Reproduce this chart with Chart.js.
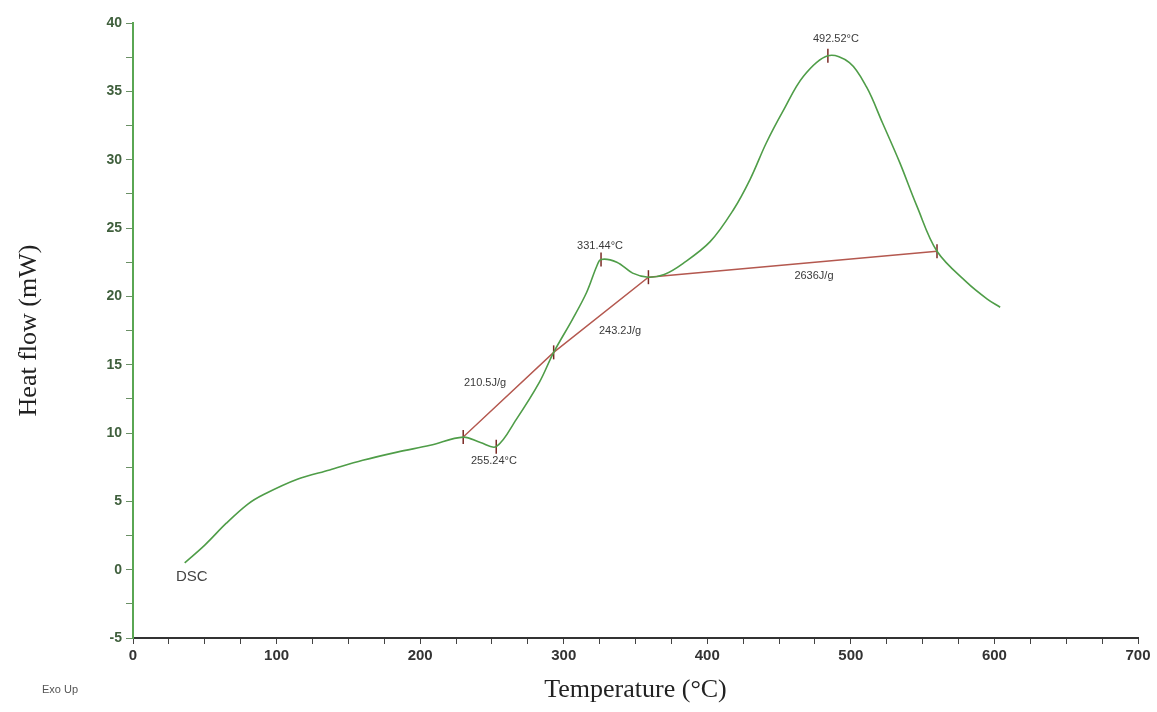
<!DOCTYPE html>
<html>
<head>
<meta charset="utf-8">
<script src="https://cdn.jsdelivr.net/npm/chart.js@4"></script>
<style>
  html, body { margin: 0; padding: 0; background: #fff; }
  #wrap { width: 1157px; height: 712px; }
</style>
</head>
<body>
<div id="wrap"><canvas id="dscChart" width="1157" height="712"></canvas></div>
<script>
// DSC curve (temperature in °C, heat flow in mW)
const temps = [36, 50, 65, 80, 91, 114, 137, 160, 184, 207, 230, 242, 253, 267, 283, 293, 306, 316, 323, 326,
  337, 348, 359, 370, 383, 402, 418, 430, 441, 453, 467, 484, 499, 511, 522, 534, 546, 560, 581, 595, 604];
const heatFlow = [0.5, 1.8, 3.4, 4.8, 5.5, 6.6, 7.3, 8.0, 8.6, 9.1, 9.7, 9.3, 9.0, 11.0, 13.7, 15.9, 18.3, 20.3, 22.2, 22.7,
  22.5, 21.7, 21.4, 21.6, 22.4, 24.0, 26.3, 28.6, 31.2, 33.6, 36.1, 37.6, 37.1, 35.3, 32.7, 29.8, 26.6, 23.3, 21.0, 19.8, 19.2];

// integration baselines (red)
const baseTemps = [230, 293, 359, 560];
const baseFlow = [9.7, 15.9, 21.4, 23.3];

// marker ticks on the curve
const markTemps = [230, 253, 293, 326, 359, 484, 560];
const markFlow = [9.7, 9.0, 15.9, 22.7, 21.4, 37.6, 23.3];

// annotation texts and where they sit (data coords)
const noteTexts = ["492.52°C", "331.44°C", "255.24°C", "210.5J/g", "243.2J/g", "2636J/g"];
const noteTemps = [489.6, 325.3, 251.4, 245.2, 339.2, 474.3];
const noteFlow = [38.8, 23.7, 7.95, 13.65, 17.5, 21.5];

const xTicks = [0, 100, 200, 300, 400, 500, 600, 700];
const yTicks = [-5, 0, 5, 10, 15, 20, 25, 30, 35, 40];

const toPts = (xs, ys) => xs.map((x, i) => ({x: x, y: ys[i]}));

// text labels drawn on top of the chart
const notesPlugin = {
  id: 'notes',
  afterDatasetsDraw(chart) {
    const c = chart.ctx;
    const xs = chart.scales.x, ys = chart.scales.y;
    c.save();
    c.fillStyle = '#3a3a3a';
    c.textAlign = 'center';
    c.textBaseline = 'middle';
    c.font = '11px "Liberation Sans", Arial, sans-serif';
    noteTexts.forEach((t, i) => {
      c.fillText(t, xs.getPixelForValue(noteTemps[i]), ys.getPixelForValue(noteFlow[i]));
    });
    // curve name next to start of trace
    c.font = '15px "Liberation Sans", Arial, sans-serif';
    c.fillStyle = '#444';
    c.fillText('DSC', xs.getPixelForValue(41), ys.getPixelForValue(-0.5));
    // "Exo Up" under the axis corner
    c.font = '11px "Liberation Sans", Arial, sans-serif';
    c.fillStyle = '#555';
    c.fillText('Exo Up', 60, 690);
    c.restore();
  }
};

const ctx = document.getElementById('dscChart').getContext('2d');
const dscChart = new Chart(ctx, {
  type: 'scatter',
  data: {
    datasets: [{
      label: 'DSC',
      data: toPts(temps, heatFlow),
      showLine: true,
      borderColor: '#4f9d48',
      borderWidth: 1.6,
      pointRadius: 0,
      tension: 0.35
    }, {
      label: 'Baseline',
      data: toPts(baseTemps, baseFlow),
      showLine: true,
      borderColor: '#b4584f',
      borderWidth: 1.4,
      pointRadius: 0,
      tension: 0
    }, {
      label: 'Marks',
      data: toPts(markTemps, markFlow),
      showLine: false,
      pointStyle: 'line',
      rotation: 90,
      pointRadius: 7,
      borderColor: '#7a2a24',
      borderWidth: 1.5
    }]
  },
  options: {
    responsive: false,
    animation: false,
    layout: { padding: { top: 23, right: 19, bottom: 0, left: 0 } },
    plugins: {
      legend: { display: false },
      tooltip: { enabled: false }
    },
    scales: {
      x: {
        type: 'linear',
        min: 0,
        max: 700,
        afterFit(scale) { scale.height = 74; },
        afterBuildTicks(scale) {
          const t = [];
          for (let v = 0; v <= 700; v += 25) t.push({value: v});
          scale.ticks = t;
        },
        border: { color: '#333', width: 2 },
        grid: { drawOnChartArea: false, color: '#444', tickLength: 6 },
        ticks: {
          autoSkip: false,
          maxRotation: 0,
          padding: 3,
          color: '#333',
          font: { family: '"Liberation Sans", Arial, sans-serif', size: 15, weight: 'bold' },
          callback: (v) => xTicks.includes(v) ? String(v) : ''
        },
        title: {
          display: true,
          text: 'Temperature (°C)',
          color: '#222',
          font: { family: '"Liberation Serif", "Times New Roman", serif', size: 26 },
          padding: { top: 0, bottom: 6 }
        }
      },
      y: {
        type: 'linear',
        min: -5,
        max: 40,
        afterFit(scale) { scale.width = 133; },
        afterBuildTicks(scale) {
          const t = [];
          for (let v = -5; v <= 40; v += 2.5) t.push({value: v});
          scale.ticks = t;
        },
        border: { color: '#5aa653', width: 2 },
        grid: { drawOnChartArea: false, color: '#6b8f66', tickLength: 7 },
        ticks: {
          autoSkip: false,
          padding: 4,
          color: '#3f5f3c',
          font: { family: '"Liberation Sans", Arial, sans-serif', size: 14, weight: 'bold' },
          callback: (v) => yTicks.includes(v) ? String(v) : ''
        },
        title: {
          display: true,
          text: 'Heat flow (mW)',
          color: '#222',
          font: { family: '"Liberation Serif", "Times New Roman", serif', size: 26 },
          padding: { top: 14, bottom: 0 }
        }
      }
    }
  },
  plugins: [notesPlugin]
});
</script>
</body>
</html>
